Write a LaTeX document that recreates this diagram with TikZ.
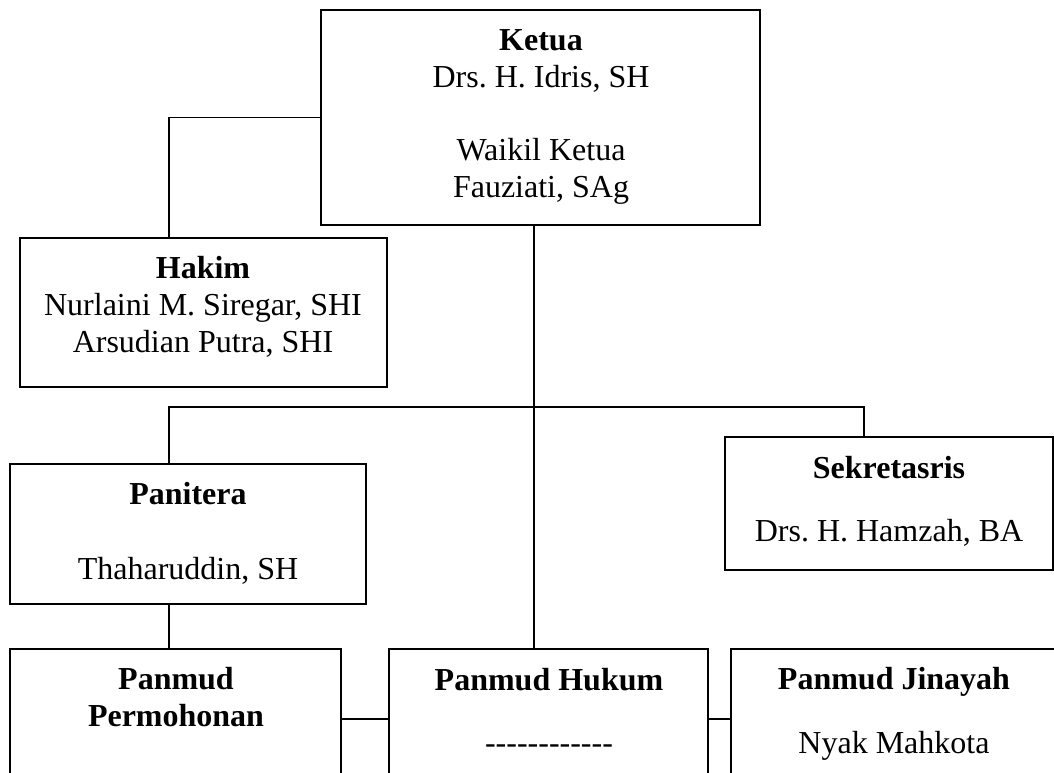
\documentclass[tikz,border=0pt]{standalone}
\usepackage{fontspec}
\setmainfont{Liberation Serif}
\frenchspacing
\begin{document}
\begin{tikzpicture}[x=1pt,y=-1pt,
  box/.style={draw, line width=1.8pt, rectangle, inner sep=0pt, outer sep=0pt, fill=none},
  txt/.style={anchor=base, inner sep=0pt, font=\fontsize{32}{36}\selectfont},
  btxt/.style={txt, font=\fontsize{32}{36}\selectfont\bfseries},
  conn/.style={draw, line width=1.8pt}]
\useasboundingbox (0,0) rectangle (1054,772);
\clip (0,0) rectangle (1054,772);
\fill[white] (0,0) rectangle (1054,772);
% boxes
\node[box, minimum width=439pt, minimum height=215pt] (ketua) at (540.5,117.5) {};
\node[box, minimum width=367pt, minimum height=149pt] (hakim) at (203.5,312.5) {};
\node[box, minimum width=356pt, minimum height=140pt] (panitera) at (188,534) {};
\node[box, minimum width=328pt, minimum height=133pt] (sekr) at (889,503.5) {};
\node[box, minimum width=331pt, minimum height=200pt] (permo) at (175.5,749) {};
\node[box, minimum width=319pt, minimum height=200pt] (hukum) at (548.5,749) {};
\node[box, minimum width=400pt, minimum height=200pt] (jinayah) at (931,749) {};
% texts
\node[btxt] (t1) at (541,50) {Ketua};
\node[txt] (t2) at (541,87) {Drs. H. Idris, SH};
\node[txt] (t3) at (541,160) {Waikil Ketua};
\node[txt] (t4) at (541,197) {Fauziati, SAg};
\node[btxt] (t5) at (203,278) {Hakim};
\node[txt] (t6) at (203,315) {Nurlaini M. Siregar, SHI};
\node[txt] (t7) at (203,352) {Arsudian Putra, SHI};
\node[btxt] (t8) at (188,504) {Panitera};
\node[txt] (t9) at (188,579) {Thaharuddin, SH};
\node[btxt] (t10) at (889,478) {Sekretasris};
\node[txt] (t11) at (889,541) {Drs. H. Hamzah, BA};
\node[btxt] (t12) at (176,689) {Panmud};
\node[btxt] (t13) at (176,726) {Permohonan};
\node[btxt] (t14) at (549,690) {Panmud Hukum};
\node[txt] (t15) at (549,753) {-{}-{}-{}-{}-{}-{}-{}-{}-{}-{}-{}-};
\node[btxt] (t16) at (894,689) {Panmud Jinayah};
\node[txt] (t17) at (894,753) {Nyak Mahkota};
% junction coordinates
\coordinate (busL) at (169,407);
\coordinate (busR) at (864,407);
\coordinate (trunk) at (534,407);
\coordinate (hy) at (0,719);
% connectors
\draw[conn] (ketua.west) -| (hakim.north -| busL);
\draw[conn] (ketua.south -| trunk) -- (hukum.north -| trunk);
\draw[conn] (panitera.north -| busL) -- (busL) -- (busR) -- (sekr.north -| busR);
\draw[conn] (panitera.south -| busL) -- (permo.north -| busL);
\draw[conn] (permo.east |- hy) -- (hukum.west |- hy);
\draw[conn] (hukum.east |- hy) -- (jinayah.west |- hy);
\end{tikzpicture}
\end{document}
